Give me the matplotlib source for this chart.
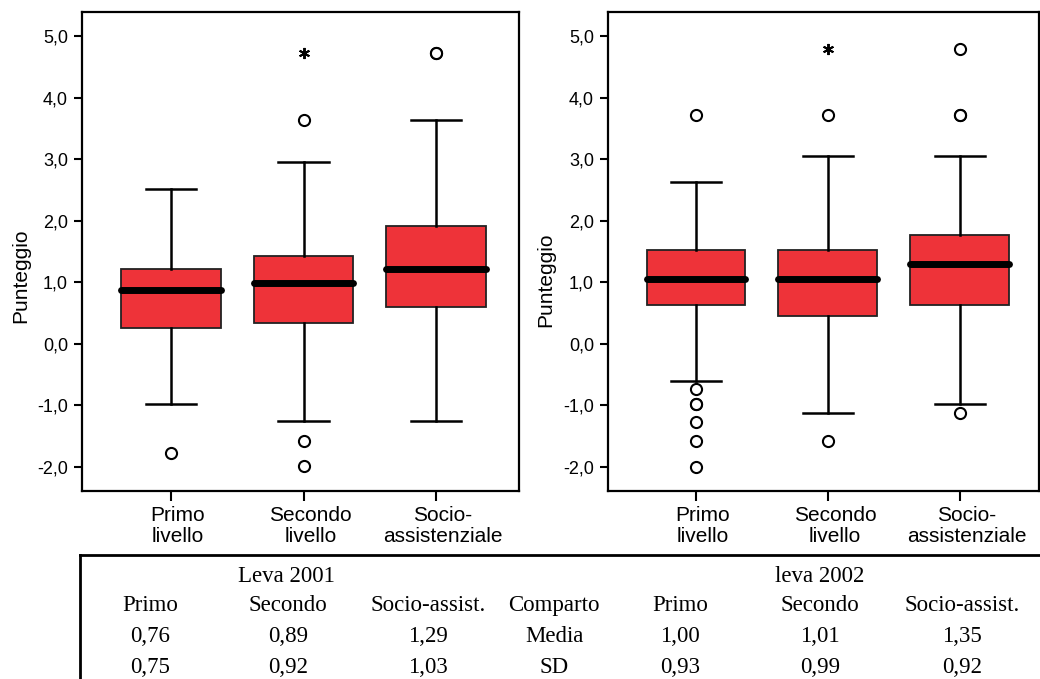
import matplotlib
matplotlib.use("Agg")
from matplotlib import pyplot as plt
from matplotlib.lines import Line2D
from matplotlib.transforms import ScaledTranslation

plt.rcParams["font.family"] = ["Liberation Sans", "DejaVu Sans"]

# categories
groups = ["Primo\nlivello", "Secondo\nlivello", "Socio-\nassistenziale"]

# leva 2001 (left panel): whisker low, Q1, median, Q3, whisker high
low_2001 = [-0.98, -1.26, -1.26]
q1_2001 = [0.26, 0.34, 0.60]
med_2001 = [0.88, 0.99, 1.21]
q3_2001 = [1.21, 1.43, 1.91]
high_2001 = [2.52, 2.96, 3.64]
out_2001 = [[-1.77], [-1.57, -1.99, 3.63], [4.73, 4.73]]
ext_2001 = [[], [4.73], []]

# leva 2002 (right panel)
low_2002 = [-0.60, -1.12, -0.98]
q1_2002 = [0.63, 0.45, 0.63]
med_2002 = [1.06, 1.06, 1.29]
q3_2002 = [1.53, 1.53, 1.76]
high_2002 = [2.63, 3.05, 3.05]
out_2002 = [[3.71, -0.74, -0.98, -0.98, -1.27, -1.57, -2.00],
            [3.71, -1.57],
            [4.79, 3.71, 3.71, -1.12]]
ext_2002 = [[], [4.79], []]

# summary table under the plots
table_head = ["Primo", "Secondo", "Socio-assist.", "Comparto", "Primo", "Secondo", "Socio-assist."]
table_media = ["0,76", "0,89", "1,29", "Media", "1,00", "1,01", "1,35"]
table_sd = ["0,75", "0,92", "1,03", "SD", "0,93", "0,99", "0,92"]

W, H = 1040, 679
fig = plt.figure(figsize=(W / 100, H / 100), dpi=100)
red = "#EE3339"


def panel(rect, xlim, label_pos, low, q1, med, q3, high, outs, exts):
    ax = fig.add_axes(rect)
    stats = []
    for i in range(3):
        stats.append({"whislo": low[i], "q1": q1[i], "med": med[i], "q3": q3[i],
                      "whishi": high[i], "fliers": outs[i]})
    ax.bxp(stats, positions=[1, 2, 3], widths=0.75, capwidths=0.38,
           patch_artist=True,
           boxprops=dict(facecolor=red, edgecolor="#222222", linewidth=1.3),
           medianprops=dict(color="black", linewidth=5, solid_capstyle="round"),
           whiskerprops=dict(color="black", linewidth=1.8),
           capprops=dict(color="black", linewidth=1.8),
           flierprops=dict(marker="o", markerfacecolor="white", markeredgecolor="black",
                           markersize=8, markeredgewidth=1.5, linestyle="none"))
    for i in range(3):
        if exts[i]:
            ax.plot([i + 1] * len(exts[i]), exts[i], linestyle="none", marker=(6, 2, 0),
                    color="black", markersize=8, markeredgewidth=1.4)
    ax.set_xlim(*xlim)
    ax.set_ylim(-2.39, 5.39)
    ax.set_yticks([-2, -1, 0, 1, 2, 3, 4, 5])
    ax.set_yticklabels(["-2,0", "-1,0", "0,0", "1,0", "2,0", "3,0", "4,0", "5,0"])
    ax.set_xticks([1, 2, 3])
    ax.tick_params(axis="y", labelsize=13, length=6, width=1.5, pad=4)
    ax.tick_params(axis="x", length=7, width=1.5, pad=4)
    ax.set_xticklabels(groups, fontsize=15, linespacing=1.12)
    # labels sit a bit to the right of their ticks in the original
    shift = ScaledTranslation(7 / 100, 0, fig.dpi_scale_trans)
    for lab in ax.get_xticklabels():
        lab.set_transform(lab.get_transform() + shift)
    ax.set_ylabel("Punteggio", fontsize=15)
    ax.yaxis.set_label_coords(*label_pos)
    for s in ax.spines.values():
        s.set_linewidth(1.6)
    return ax


bottom = (H - 491) / H
height = (491 - 12) / H
panel([82 / W, bottom, (519 - 82) / W, height], (0.328, 3.626), (-0.119, 0.45),
      low_2001, q1_2001, med_2001, q3_2001, high_2001, out_2001, ext_2001)
panel([608 / W, bottom, (1039 - 608) / W, height], (0.333, 3.60), (-0.123, 0.44),
      low_2002, q1_2002, med_2002, q3_2002, high_2002, out_2002, ext_2002)

# table frame
fig.add_artist(Line2D([80 / W, 1.0], [1 - 555 / H, 1 - 555 / H], color="black", linewidth=2))
fig.add_artist(Line2D([80 / W, 80 / W], [1 - 555 / H, 0], color="black", linewidth=2))

serif = "Liberation Serif"
col_x = [150, 288, 428, 554, 680, 820, 962]
fig.text(286 / W, 1 - 582 / H, "Leva 2001", ha="center", va="baseline", fontsize=16.5, family=serif)
fig.text(820 / W, 1 - 582 / H, "leva 2002", ha="center", va="baseline", fontsize=16.5, family=serif)
for row, ypix in [(table_head, 611), (table_media, 642), (table_sd, 673)]:
    for x, t in zip(col_x, row):
        fig.text(x / W, 1 - ypix / H, t, ha="center", va="baseline", fontsize=16.5, family=serif)

fig.savefig("out.png", dpi=100)
